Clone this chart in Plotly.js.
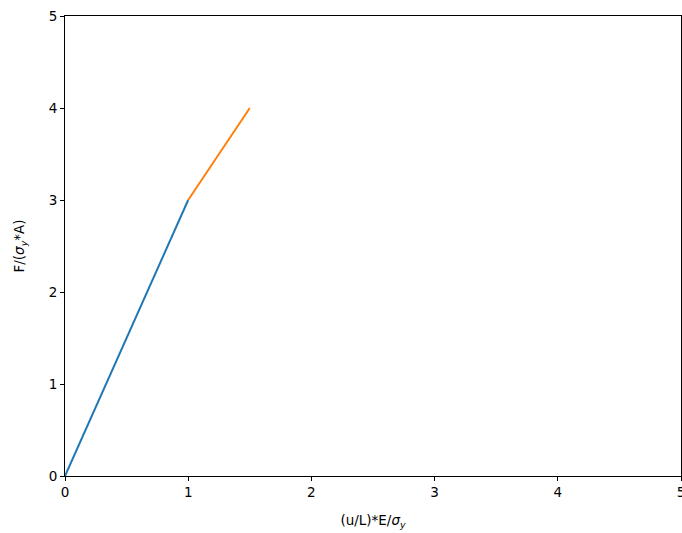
<!DOCTYPE html>
<html>
<head>
<meta charset="utf-8">
<script src="https://cdn.plot.ly/plotly-3.0.1.min.js"></script>
<style>html,body{margin:0;padding:0;background:#fff;}#chart{width:682px;height:533px;}</style>
</head>
<body>
<div id="chart"></div>
<script>
const elasticX = [0, 1];
const elasticY = [0, 3];
const plasticX = [1, 1.5];
const plasticY = [3, 4];
const xTicks = [0, 1, 2, 3, 4, 5];
const yTicks = [0, 1, 2, 3, 4, 5];
const xLabel = "(u/L)*E/<i>σ</i><sub><i>y</i></sub>";
const yLabel = "F/(<i>σ</i><sub><i>y</i></sub>*A)";

const font = {family: "DejaVu Sans", size: 13.5, color: "#000"};
const axisBase = {
  showline: true, mirror: true, linecolor: "#000", linewidth: 1,
  ticks: "outside", ticklen: 4, tickwidth: 1, tickcolor: "#000",
  showgrid: false, zeroline: false, tickfont: font, tickmode: "array",
  ticklabeloverflow: "allow"
};
const data = [
  {x: elasticX, y: elasticY, mode: "lines", line: {color: "#1f77b4", width: 2}, showlegend: false, hoverinfo: "skip"},
  {x: plasticX, y: plasticY, mode: "lines", line: {color: "#ff7f0e", width: 2}, showlegend: false, hoverinfo: "skip"}
];
const layout = {
  width: 682, height: 533,
  margin: {l: 65, r: 1, t: 16, b: 57},
  paper_bgcolor: "#fff", plot_bgcolor: "#fff",
  font: font,
  xaxis: Object.assign({}, axisBase, {range: [0, 5], tickvals: xTicks, ticktext: xTicks.map(String),
    title: {text: xLabel, font: font, standoff: 16}}),
  yaxis: Object.assign({}, axisBase, {range: [0, 5], tickvals: yTicks, ticktext: yTicks.map(String),
    title: {text: yLabel, font: font, standoff: 20}})
};
Plotly.newPlot("chart", data, layout, {staticPlot: true, displayModeBar: false});
</script>
</body>
</html>
